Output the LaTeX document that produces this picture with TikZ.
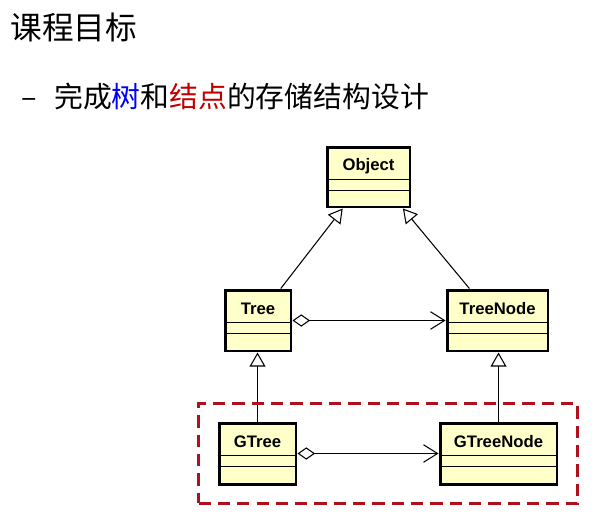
\documentclass[tikz,border=0pt]{standalone}
\usepackage{fontspec}
\setmainfont{Liberation Sans}
\newfontfamily\cjk{Noto Sans CJK SC}
\usetikzlibrary{positioning, fit, calc, arrows.meta}
\definecolor{umlyellow}{HTML}{FFFFCA}
\definecolor{framered}{HTML}{B0101E}
\definecolor{keyred}{HTML}{C00000}
\tikzset{
	classbox/.style={draw, fill=umlyellow, line width=1.7pt, inner sep=0pt}
}
\tikzset{
	classname/.style={font=\fontsize{9.5}{11}\selectfont\bfseries, inner sep=0pt}
}
\tikzset{
	dashframe/.style={draw=framered, line width=1.7pt, dash pattern=on 7pt off 4pt,
	  inner xsep=0.38cm, inner ysep=0.36cm}
}

\begin{document}
\begin{tikzpicture}[x=0.02cm, y=-0.02cm, line width=0.6pt]
      \useasboundingbox (0,0) rectangle (614,514);
      % heading
      \node[anchor=west, inner sep=0, font=\cjk\fontsize{18}{20}\selectfont] (title) at (10,27) {课程目标};
      \node[anchor=west, inner sep=0, font=\cjk\fontsize{16.4}{20}\selectfont] (goal) at (21,97)
        {–\hspace{0.6em}完成\textcolor{blue}{树}和\textcolor{keyred}{结点}的存储结构设计};
      % classes
      \node[classbox, minimum width=1.66cm, minimum height=1.20cm] (object) at (368.5,177) {};
      \node[classbox, minimum width=1.32cm, minimum height=1.22cm] (tree) at (258,320.5) {};
      \node[classbox, minimum width=2.02cm, minimum height=1.22cm] (treenode) at (497.5,320.5) {};
      \node[classbox, minimum width=1.54cm, minimum height=1.22cm] (gtree) at (257.5,453.5) {};
      \node[classbox, minimum width=2.34cm, minimum height=1.22cm] (gtreenode) at (498.5,453.5) {};
      \foreach \n/\t in {object/Object, tree/Tree, treenode/TreeNode, gtree/GTree, gtreenode/GTreeNode} {
        \node[classname] (\n-name) at ($(\n.north)+(0,20.5)$) {\t};
        \draw ($(\n.north west)+(0,34)$) -- ($(\n.north east)+(0,34)$);
        \draw ($(\n.north west)+(0,45)$) -- ($(\n.north east)+(0,45)$);
      }
      % generalization
      \draw[-{Triangle[open,length=8pt,width=9pt]}] ($(tree.north west)!0.83!(tree.north east)$) -- ($(object.south west)!0.2!(object.south east)$);
      \draw[-{Triangle[open,length=8pt,width=9pt]}] ($(treenode.north west)!0.23!(treenode.north east)$) -- ($(object.south west)!0.9!(object.south east)$);
      \draw[-{Triangle[open,length=8pt,width=9pt]}] (gtree.north) -- (gtree.north |- tree.south);
      \draw[-{Triangle[open,length=8pt,width=9pt]}] (gtreenode.north) -- (gtreenode.north |- treenode.south);
      % aggregation
      \draw[{Diamond[open,length=10pt,width=7pt]}-{Straight Barb[length=8pt,width=10pt]}] (tree) -- (treenode);
      \draw[{Diamond[open,length=10pt,width=7pt]}-{Straight Barb[length=8pt,width=10pt]}] (gtree) -- (gtreenode);
      % generic part
      \node[dashframe, fit=(gtree)(gtreenode)] (gframe) {};
    \end{tikzpicture}
\end{document}
